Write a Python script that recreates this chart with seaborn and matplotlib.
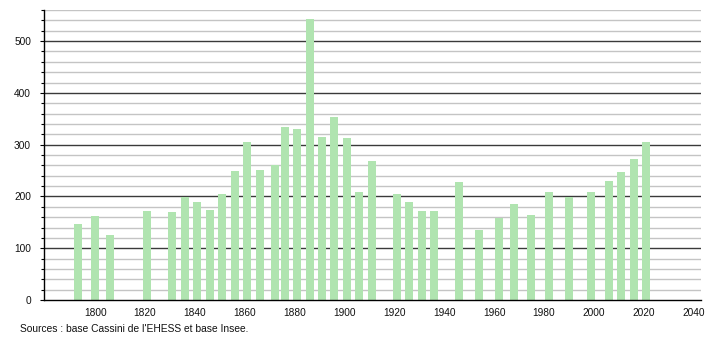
import matplotlib
matplotlib.use("Agg")
import matplotlib.pyplot as plt
from matplotlib.ticker import MultipleLocator
import seaborn as sns
import pandas as pd

years = [1793, 1800, 1806, 1821, 1831, 1836, 1841, 1846, 1851, 1856, 1861, 1866,
         1872, 1876, 1881, 1886, 1891, 1896, 1901, 1906, 1911, 1921, 1926, 1931,
         1936, 1946, 1954, 1962, 1968, 1975, 1982, 1990, 1999, 2006, 2011, 2016, 2021]
population = [146, 163, 126, 171, 169, 198, 190, 174, 204, 249, 306, 251,
              260, 335, 330, 543, 314, 353, 312, 208, 268, 204, 189, 172,
              172, 228, 135, 159, 185, 164, 208, 199, 208, 230, 247, 272, 306]
x_ticks = [1800, 1820, 1840, 1860, 1880, 1900, 1920, 1940, 1960, 1980, 2000, 2020, 2040]
y_ticks = [0, 100, 200, 300, 400, 500]
source_text = "Sources : base Cassini de l'EHESS et base Insee."

df = pd.DataFrame({"year": years, "pop": population})

sns.set_theme(style="white")
plt.rcParams["font.family"] = ["Liberation Sans", "DejaVu Sans"]

fig = plt.figure(figsize=(7.1, 3.4), dpi=100)
ax = fig.add_axes([43.5 / 710, 40 / 340, (700.5 - 43.5) / 710, 290 / 340])

for v in range(20, 561, 20):
    if v % 100 == 0:
        ax.axhline(v, color="#3a3a3a", lw=1.0, zorder=0.5)
    else:
        ax.axhline(v, color="#c4c4c4", lw=1.0, zorder=0.5)

sns.barplot(data=df, x="year", y="pop", native_scale=True, width=0.8,
            color="#b0e4b0", saturation=1, ax=ax, linewidth=0)
for p in ax.patches:
    p.set_zorder(2)

ax.set_xlim(1779.3, 2042.8)
ax.set_ylim(0, 560)
ax.set_xticks(x_ticks)
ax.set_xticklabels([str(t) for t in x_ticks])
ax.set_yticks(y_ticks)
ax.yaxis.set_minor_locator(MultipleLocator(20))
ax.set_xlabel("")
ax.set_ylabel("")
ax.grid(False)

for s in ["top", "right"]:
    ax.spines[s].set_visible(False)
for s in ["left", "bottom"]:
    ax.spines[s].set_color("black")
    ax.spines[s].set_linewidth(1.0)
    ax.spines[s].set_zorder(3)

ax.tick_params(axis="y", which="major", length=3, width=0.8, color="black",
               direction="out", labelsize=7.3, pad=6, left=True, labelcolor="#111111")
ax.tick_params(axis="y", which="minor", length=2, width=0.8, color="black",
               direction="out", left=True)
ax.tick_params(axis="x", which="both", length=0, labelsize=7.3, pad=6,
               labelcolor="#111111")

fig.text(20 / 710, 1 - 329 / 340, source_text, fontsize=7.4, va="center",
         ha="left", color="#111111")

fig.savefig("out.png", dpi=100)
